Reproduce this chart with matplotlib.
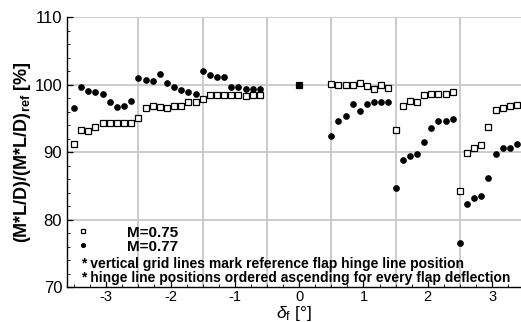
import numpy as np
import matplotlib
matplotlib.use('Agg')
import matplotlib.pyplot as plt
from matplotlib.ticker import MultipleLocator

plt.rcParams['font.family'] = ['Liberation Sans', 'DejaVu Sans']
plt.rcParams['axes.unicode_minus'] = False
plt.rcParams['mathtext.fontset'] = 'custom'
plt.rcParams['mathtext.rm'] = 'Liberation Sans'
plt.rcParams['mathtext.it'] = 'Liberation Sans:italic'
plt.rcParams['mathtext.bf'] = 'Liberation Sans:bold'

# flap deflections and the 9 hinge line positions inside every deflection
deflections = [-3, -2, -1, 1, 2, 3]
hinge_offset = [-0.5, -0.389, -0.278, -0.167, -0.056, 0.056, 0.167, 0.278, 0.389]

# M=0.75 (squares), one row per deflection
m075 = [
    [91.2, 93.3, 93.1, 93.7, 94.4, 94.4, 94.3, 94.3, 94.3],
    [95.1, 96.6, 96.8, 96.7, 96.5, 96.8, 96.9, 97.4, 97.5],
    [97.9, 98.5, 98.5, 98.5, 98.5, 98.5, 98.3, 98.5, 98.5],
    [100.1, 99.9, 99.9, 99.9, 100.2, 99.8, 99.4, 100.0, 99.5],
    [93.3, 96.9, 97.6, 97.4, 98.5, 98.7, 98.7, 98.7, 98.9],
    [84.3, 89.9, 90.6, 91.1, 93.8, 96.2, 96.5, 96.9, 97.0],
]
# M=0.77 (circles)
m077 = [
    [96.5, 99.6, 99.1, 99.0, 98.6, 97.4, 96.7, 96.9, 97.6],
    [101.0, 100.7, 100.6, 101.6, 100.3, 99.6, 99.3, 98.9, 98.7],
    [102.1, 101.4, 101.2, 101.2, 99.6, 99.7, 99.4, 99.4, 99.4],
    [92.4, 94.6, 95.4, 97.1, 96.1, 97.2, 97.4, 97.5, 97.5],
    [84.7, 88.8, 89.5, 89.8, 91.5, 93.6, 94.7, 94.7, 94.9],
    [76.6, 82.4, 83.2, 83.5, 86.2, 89.8, 90.7, 90.7, 91.2],
]
ref_x = 0
ref_val = 100.0

x = np.concatenate([np.array(hinge_offset) + d for d in deflections] + [[ref_x]])
y075 = np.concatenate([np.array(r) for r in m075] + [[ref_val]])
y077 = np.concatenate([np.array(r) for r in m077] + [[ref_val]])

fig = plt.figure(figsize=(5.21, 3.22), dpi=100)
ax = fig.add_axes([0.1286, 0.1078, 0.8714, 0.8385])

ax.plot(x, y075, ls='none', marker='s', ms=5.0, mfc='white', mec='black', mew=0.9,
        label='M=0.75', zorder=3)
ax.plot(x, y077, ls='none', marker='o', ms=3.8, mfc='black', mec='black',
        label='M=0.77', zorder=4)

ax.set_xlim(-3.61, 3.45)
ax.set_ylim(70, 110)
ax.set_xticks([-3, -2, -1, 0, 1, 2, 3])
ax.set_yticks([70, 80, 90, 100, 110])
ax.xaxis.set_minor_locator(MultipleLocator(0.25))
ax.yaxis.set_minor_locator(MultipleLocator(2))
ax.tick_params(which='both', direction='in')
ax.tick_params(axis='y', labelsize=12)
ax.tick_params(axis='x', labelsize=10.5, pad=2)
ax.tick_params(which='major', length=4, width=0.9)
ax.tick_params(which='minor', length=2, width=0.6)

# grid lines at the reference hinge line positions
for gx in [-2.5, -1.5, -0.5, 0.5, 1.5, 2.5]:
    ax.axvline(gx, color='#c8c8c8', lw=1.3, zorder=1)
for gy in [80, 90, 100, 110]:
    ax.axhline(gy, color='#c8c8c8', lw=1.3, zorder=1)

for s in ['top', 'right']:
    ax.spines[s].set_visible(False)
for s in ['left', 'bottom']:
    ax.spines[s].set_linewidth(1.0)

ax.set_ylabel(r'(M*L/D)/(M*L/D)$_{\mathbf{ref}}$ [%]', fontsize=13, fontweight='bold', labelpad=1)
ax.set_xlabel(r'$\delta_\mathrm{f}$ [°]', fontsize=12.5, labelpad=0)

leg = ax.legend(loc='lower left', bbox_to_anchor=(-0.005, 0.085), frameon=False,
                markerscale=0.7, handlelength=1.0, handletextpad=2.4,
                labelspacing=0.0, borderaxespad=0.3,
                prop={'weight': 'bold', 'size': 11})

ax.text(0.03, 0.086, '* vertical grid lines mark reference flap hinge line position',
        transform=ax.transAxes, fontsize=10, fontweight='bold', va='center')
ax.text(0.03, 0.034, '* hinge line positions ordered ascending for every flap deflection',
        transform=ax.transAxes, fontsize=10, fontweight='bold', va='center')

fig.savefig('out.png', dpi=100)
